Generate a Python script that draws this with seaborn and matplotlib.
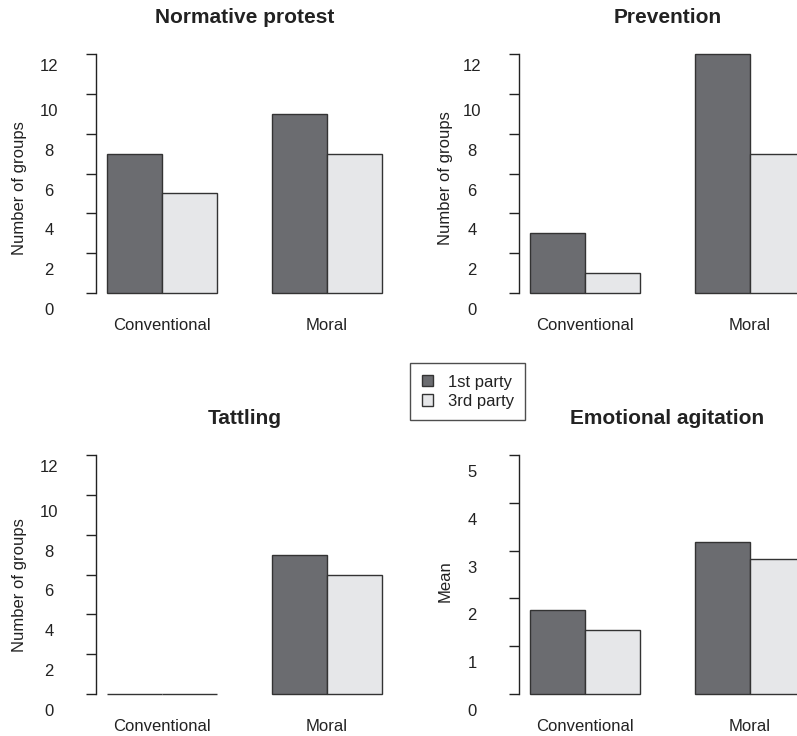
import matplotlib
matplotlib.use("Agg")
import matplotlib.pyplot as plt
import matplotlib.transforms as mtransforms
from matplotlib.patches import Patch
import seaborn as sns
import pandas as pd

# ---- data ----
panels = ["Normative protest", "Prevention", "Tattling", "Emotional agitation"]
norm_types = ["Conventional", "Moral"]
parties = ["1st party", "3rd party"]
normative_protest_1st = [7, 9]
normative_protest_3rd = [5, 7]
prevention_1st = [3, 12]
prevention_3rd = [1, 7]
tattling_1st = [0, 7]
tattling_3rd = [0, 6]
emotional_1st = [1.75, 3.17]
emotional_3rd = [1.33, 2.82]
ylabels = ["Number of groups", "Number of groups", "Number of groups", "Mean"]
count_ticks = [0, 2, 4, 6, 8, 10, 12]
mean_ticks = [0, 1, 2, 3, 4, 5]

series = {
    "Normative protest": (normative_protest_1st, normative_protest_3rd),
    "Prevention": (prevention_1st, prevention_3rd),
    "Tattling": (tattling_1st, tattling_3rd),
    "Emotional agitation": (emotional_1st, emotional_3rd),
}
rows = []
for p in panels:
    first, third = series[p]
    for t, v1, v3 in zip(norm_types, first, third):
        rows.append({"panel": p, "type": t, "party": parties[0], "value": v1})
        rows.append({"panel": p, "type": t, "party": parties[1], "value": v3})
df = pd.DataFrame(rows)

# ---- style ----
sns.set_theme(style="white")
plt.rcParams["font.family"] = ["Liberation Sans", "DejaVu Sans"]
dark = "#6b6c70"
light = "#e6e7e9"
edge = "#333333"
palette = {parties[0]: dark, parties[1]: light}

W, H = 797, 736
fig = plt.figure(figsize=(W / 100, H / 100), dpi=100)

# axes boxes in pixels: (left, top, right, bottom)
boxes = [(96, 54, 393, 293), (519, 54, 816, 293),
         (96, 455, 393, 694), (519, 455, 816, 694)]
ylab_pos = [(-0.232, 0.437), (-0.222, 0.483), (-0.232, 0.454), (-0.222, 0.473)]

for i, p in enumerate(panels):
    l, t, r, b = boxes[i]
    ax = fig.add_axes([l / W, 1 - b / H, (r - l) / W, (b - t) / H])
    sub = df[df["panel"] == p]
    sns.barplot(data=sub, x="type", y="value", hue="party", order=norm_types,
                hue_order=parties, palette=palette, width=2 / 3, saturation=1,
                edgecolor=edge, linewidth=1.0, legend=False, ax=ax, errorbar=None)
    for patch in ax.patches:
        patch.set_clip_on(False)
    ax.set_xlim(-0.4, 1.4)
    ticks = mean_ticks if p == "Emotional agitation" else count_ticks
    ax.set_ylim(ticks[0], ticks[-1])
    ax.set_yticks(ticks)
    ax.set_yticklabels([str(v) for v in ticks])
    for s in ["top", "right", "bottom"]:
        ax.spines[s].set_visible(False)
    ax.spines["left"].set_color("#222222")
    ax.spines["left"].set_linewidth(1.0)
    ax.tick_params(axis="y", direction="out", length=7.2, width=1.0,
                   color="#222222", labelsize=12, pad=26.5, left=True)
    ax.tick_params(axis="x", length=0, labelsize=12, pad=18)
    n = len(ticks)
    for j, lbl in enumerate(ax.get_yticklabels()):
        dy = 11 if (j == n - 1 and p != "Emotional agitation") else 16
        lbl.set_ha("center")
        lbl.set_color("#222222")
        lbl.set_transform(lbl.get_transform() +
                          mtransforms.ScaledTranslation(0, -dy / 100, fig.dpi_scale_trans))
    for lbl in ax.get_xticklabels():
        lbl.set_color("#222222")
    ax.set_xlabel("")
    ax.set_ylabel(ylabels[i], fontsize=12, color="#222222")
    ax.yaxis.set_label_coords(*ylab_pos[i])
    ax.set_title(p, fontsize=15, fontweight="bold", color="#222222", pad=22)
    ax.set_facecolor("none")

handles = [Patch(facecolor=dark, edgecolor=edge, linewidth=1.0),
           Patch(facecolor=light, edgecolor=edge, linewidth=1.0)]
leg = fig.legend(handles, parties, loc="upper left",
                 bbox_to_anchor=(410 / W, 1 - 363 / H), borderaxespad=0,
                 frameon=True, fancybox=False, edgecolor="#222222", fontsize=12,
                 handlelength=0.65, handleheight=0.65, handletextpad=0.9,
                 borderpad=0.7, labelspacing=0.25)
leg.get_frame().set_linewidth(1.0)
for txt in leg.get_texts():
    txt.set_color("#222222")

fig.savefig("out.png", dpi=100)
